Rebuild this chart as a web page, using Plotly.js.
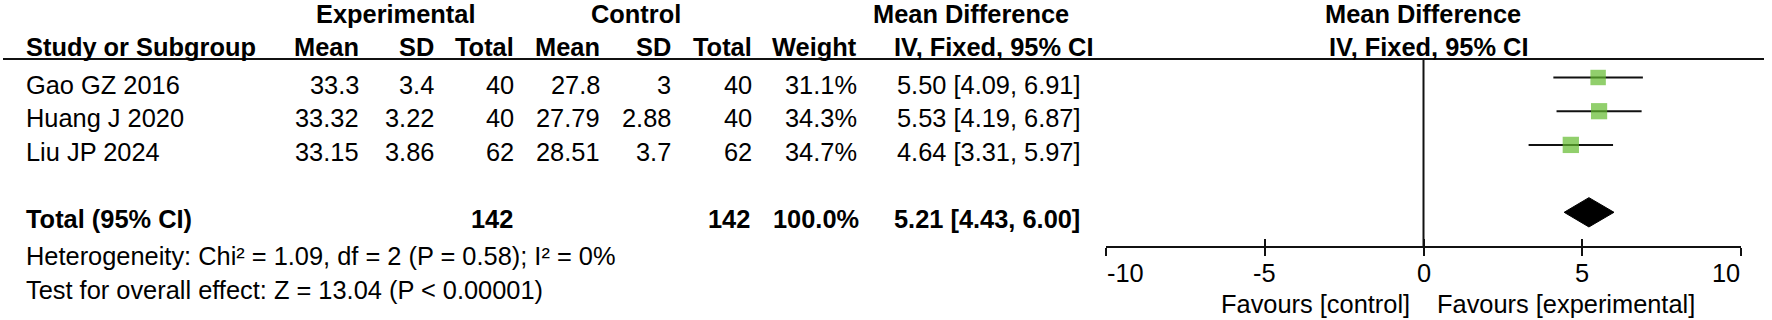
<!DOCTYPE html>
<html>
<head>
<meta charset="utf-8">
<script src="https://cdn.plot.ly/plotly-3.0.1.min.js"></script>
<style>html,body{margin:0;padding:0;background:#fff;}#chart{width:1772px;height:320px;}</style>
</head>
<body>
<div id="chart"></div>
<script>
// ---------- data ----------
const studies   = ['Gao GZ 2016', 'Huang J 2020', 'Liu JP 2024'];
const expMean   = ['33.3', '33.32', '33.15'];
const expSD     = ['3.4', '3.22', '3.86'];
const expTotal  = [40, 40, 62];
const ctrlMean  = ['27.8', '27.79', '28.51'];
const ctrlSD    = ['3', '2.88', '3.7'];
const ctrlTotal = [40, 40, 62];
const weight    = [31.1, 34.3, 34.7];
const md        = [5.50, 5.53, 4.64];
const ciLow     = [4.09, 4.19, 3.31];
const ciHigh    = [6.91, 6.87, 5.97];

const totalLabel     = 'Total (95% CI)';
const totalExp       = 142;
const totalCtrl      = 142;
const totalWeight    = 100.0;
const totalMD        = 5.21;
const totalLow       = 4.43;
const totalHigh      = 6.00;
const heterogeneity  = 'Heterogeneity: Chi² = 1.09, df = 2 (P = 0.58); I² = 0%';
const overallEffect  = 'Test for overall effect: Z = 13.04 (P &lt; 0.00001)';

const tickValues = [-10, -5, 0, 5, 10];
const tickLabels = ['-10', '-5', '0', '5', '10'];
const favourLeft  = 'Favours [control]';
const favourRight = 'Favours [experimental]';

// ---------- layout constants ----------
const W = 1772, H = 320;
const FONT = 'Liberation Sans, Arial, sans-serif';
const FS = 25.4;
const ROW0 = 77.5, ROWH = 33.7;            // pixel of row 0 and row height
const px = v => v / W;                      // paper x from pixel
const py = v => 1 - v / H;                  // paper y from pixel
const TXT = 0.21;                           // text offset below marker centre (rows)
const totalRow = studies.length + 1;
const axisY = 246.7, headLineY = 59;

const fmt2 = v => v.toFixed(2);
const ciText = (m, l, h) => fmt2(m) + ' [' + fmt2(l) + ', ' + fmt2(h) + ']';

const ann = [];
function txt(text, x, xanchor, y, yref, bold, xref) {
  ann.push({
    text: bold ? '<b>' + text + '</b>' : text,
    x: x, xref: xref || 'paper', xanchor: xanchor,
    y: y, yref: yref, yanchor: 'middle',
    showarrow: false, borderpad: 0,
    font: {family: FONT, size: FS, color: '#000'}
  });
}

// headers
txt('Experimental', px(395.5), 'center', py(13.8), 'paper', true);
txt('Control', px(636), 'center', py(13.8), 'paper', true);
txt('Mean Difference', px(971), 'center', py(13.8), 'paper', true);
txt('Mean Difference', px(1423), 'center', py(13.8), 'paper', true);
const hy = py(47.2);
txt('Study or Subgroup', px(25), 'left', hy, 'paper', true);
txt('Mean', px(360), 'right', hy, 'paper', true);
txt('SD', px(435), 'right', hy, 'paper', true);
txt('Total', px(515), 'right', hy, 'paper', true);
txt('Mean', px(601), 'right', hy, 'paper', true);
txt('SD', px(672), 'right', hy, 'paper', true);
txt('Total', px(753), 'right', hy, 'paper', true);
txt('Weight', px(858), 'right', hy, 'paper', true);
txt('IV, Fixed, 95% CI', px(993), 'center', hy, 'paper', true);
txt('IV, Fixed, 95% CI', px(1428.5), 'center', hy, 'paper', true);

// study rows
studies.forEach((s, i) => {
  const y = i + TXT;
  txt(s, px(25), 'left', y, 'y', false);
  txt(expMean[i], px(360), 'right', y, 'y', false);
  txt(expSD[i], px(435), 'right', y, 'y', false);
  txt(String(expTotal[i]), px(515), 'right', y, 'y', false);
  txt(ctrlMean[i], px(601), 'right', y, 'y', false);
  txt(ctrlSD[i], px(672), 'right', y, 'y', false);
  txt(String(ctrlTotal[i]), px(753), 'right', y, 'y', false);
  txt(weight[i].toFixed(1) + '%', px(858), 'right', y, 'y', false);
  txt(ciText(md[i], ciLow[i], ciHigh[i]), px(1082), 'right', y, 'y', false);
});

// total row
const ty = totalRow + TXT - 0.02;
txt(totalLabel, px(25), 'left', ty, 'y', true);
txt(String(totalExp), px(514), 'right', ty, 'y', true);
txt(String(totalCtrl), px(751), 'right', ty, 'y', true);
txt(totalWeight.toFixed(1) + '%', px(860), 'right', ty, 'y', true);
txt(ciText(totalMD, totalLow, totalHigh), px(1081), 'right', ty, 'y', true);

// footer
txt(heterogeneity, px(25), 'left', py(255.7), 'paper', false);
txt(overallEffect, px(25), 'left', py(289.5), 'paper', false);

// tick labels
tickValues.forEach((v, i) => {
  const xa = i === 0 ? 'left' : (i === tickValues.length - 1 ? 'right' : 'center');
  txt(tickLabels[i], v, xa, py(273.3), 'paper', false, 'x');
});
ann.push({text: favourLeft, x: 0, xref: 'x', xanchor: 'right', xshift: -13,
  y: py(304), yref: 'paper', yanchor: 'middle', showarrow: false, borderpad: 0,
  font: {family: FONT, size: FS, color: '#000'}});
ann.push({text: favourRight, x: 0, xref: 'x', xanchor: 'left', xshift: 12,
  y: py(304), yref: 'paper', yanchor: 'middle', showarrow: false, borderpad: 0,
  font: {family: FONT, size: FS, color: '#000'}});

// ---------- traces ----------
const rows = studies.map((s, i) => i);
const maxW = Math.max(...weight);
const squares = {
  type: 'scatter', mode: 'markers',
  x: md, y: rows,
  error_x: {type: 'data', symmetric: false,
    array: md.map((m, i) => ciHigh[i] - m),
    arrayminus: md.map((m, i) => m - ciLow[i]),
    color: '#111', thickness: 2, width: 0},
  marker: {symbol: 'square', color: '#62bb2d',
    size: weight.map(w => 16.3 * Math.sqrt(w / maxW)), line: {width: 0}},
  hoverinfo: 'skip', showlegend: false
};
const dh = 0.435;
const diamond = {
  type: 'scatter', mode: 'lines',
  x: [totalLow, totalMD, totalHigh, totalMD, totalLow],
  y: [totalRow, totalRow - dh, totalRow, totalRow + dh, totalRow],
  fill: 'toself', fillcolor: '#000', line: {color: '#000', width: 1},
  hoverinfo: 'skip', showlegend: false
};
const dummy2 = {type: 'scatter', x: [0], y: [0], xaxis: 'x2', mode: 'markers',
  marker: {opacity: 0}, hoverinfo: 'skip', showlegend: false};

const xdom = [px(1106), px(1741)];
const layout = {
  width: W, height: H,
  margin: {l: 0, r: 0, t: 0, b: 0, pad: 0},
  paper_bgcolor: '#fff', plot_bgcolor: 'rgba(0,0,0,0)',
  showlegend: false,
  xaxis: {domain: xdom, range: [-10, 10], anchor: 'free', position: py(axisY),
    showline: true, linecolor: '#111', linewidth: 2,
    ticks: 'outside', ticklen: 8, tickwidth: 2, tickcolor: '#111',
    tickmode: 'array', tickvals: tickValues, showticklabels: false,
    showgrid: false, zeroline: false, fixedrange: true},
  xaxis2: {overlaying: 'x', matches: 'x', range: [-10, 10], anchor: 'free', position: py(axisY),
    showline: false, ticks: 'inside', ticklen: 8, tickwidth: 2, tickcolor: '#111',
    tickmode: 'array', tickvals: tickValues, showticklabels: false,
    showgrid: false, zeroline: false, fixedrange: true},
  yaxis: {domain: [0, 1], range: [(H - ROW0) / ROWH, -ROW0 / ROWH],
    visible: false, showgrid: false, zeroline: false, fixedrange: true},
  shapes: [
    {type: 'line', xref: 'paper', yref: 'paper', x0: px(3), x1: px(1764),
      y0: py(headLineY), y1: py(headLineY), line: {color: '#111', width: 2}},
    {type: 'line', xref: 'x', yref: 'paper', x0: 0, x1: 0,
      y0: py(axisY), y1: py(headLineY), line: {color: '#111', width: 2}, layer: 'below'}
  ],
  annotations: ann
};

Plotly.newPlot('chart', [squares, diamond, dummy2], layout, {displayModeBar: false, staticPlot: true});
</script>
</body>
</html>
